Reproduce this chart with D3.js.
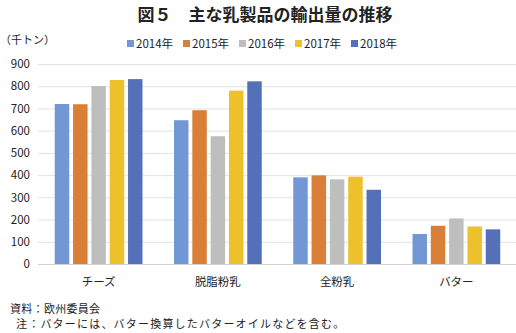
<!DOCTYPE html>
<html><head><meta charset="utf-8">
<script src="https://cdn.jsdelivr.net/npm/d3@7"></script>
<style>body{margin:0;background:#fff}svg{display:block}text{font-family:"Noto Sans CJK JP","Noto Sans",sans-serif}</style>
</head><body><svg id="c" width="516" height="333"></svg>
<script>
const categories = ["チーズ","脱脂粉乳","全粉乳","バター"];
const years = ["2014年","2015年","2016年","2017年","2018年"];
const v2014 = [720, 647, 390, 135];
const v2015 = [719, 692, 399, 172];
const v2016 = [801, 575, 381, 205];
const v2017 = [828, 780, 393, 169];
const v2018 = [832, 822, 334, 156];
const yTicks = [0,100,200,300,400,500,600,700,800,900];
const colors = ["#7198D4","#DA7F38","#BEBEBE","#ECC12B","#5470B8"];
const series = [v2014,v2015,v2016,v2017,v2018];

const svg = d3.select("#c");
const x = d3.scaleBand().domain(categories).range([39,516]).paddingInner(0).paddingOuter(0);
const x1 = d3.scaleBand().domain(years).range([0,x.bandwidth()]).paddingInner(0.21).paddingOuter(0.86);
const y = d3.scaleLinear().domain([0,900]).range([264,64]);

svg.append("text").attr("x",265).attr("y",21).attr("text-anchor","middle")
  .attr("font-size",17).attr("font-weight","bold").attr("fill","#222").text("図５　主な乳製品の輸出量の推移");
svg.append("text").attr("x",0).attr("y",44).attr("font-size",11).attr("fill","#222").text("（千トン）");

// grid
svg.append("g").selectAll("line").data(yTicks).join("line")
  .attr("x1",38).attr("x2",516).attr("y1",d=>y(d)+0.5).attr("y2",d=>y(d)+0.5)
  .attr("stroke",d=>d===0?"#d0d0d0":"#e2e2e2").attr("stroke-width",1);
const ax = svg.append("g").attr("transform","translate(30,0)").call(d3.axisLeft(y).tickValues(yTicks).tickSize(0).tickPadding(0));
ax.select(".domain").remove();
ax.selectAll("text").attr("font-size",11.5).attr("fill","#222").attr("font-family","Liberation Sans, Arial, sans-serif");

// bars
const g = svg.append("g").selectAll("g").data(categories).join("g").attr("transform",d=>`translate(${x(d)},0)`);
g.selectAll("rect").data((c,i)=>series.map((s,j)=>({yr:years[j],v:s[i],j}))).join("rect")
  .attr("x",d=>x1(d.yr)).attr("width",x1.bandwidth())
  .attr("y",d=>y(d.v)).attr("height",d=>y(0)-y(d.v)).attr("fill",d=>colors[d.j]);

// category labels
const xa = svg.append("g").attr("transform","translate(0,264)").call(d3.axisBottom(x).tickSize(0).tickPadding(14));
xa.select(".domain").remove();
xa.selectAll("text").attr("font-size",11.5).attr("fill","#222");

// legend
const lg = svg.append("g").selectAll("g").data(years).join("g").attr("transform",(d,i)=>`translate(${127+i*56},40)`);
lg.append("rect").attr("x",0).attr("y",0).attr("width",7).attr("height",7).attr("fill",(d,i)=>colors[i]);
lg.append("text").attr("x",9).attr("y",7.5).attr("font-size",11.5).attr("fill","#222").text(d=>d);

// footer
svg.append("text").attr("x",10).attr("y",313).attr("font-size",11).attr("letter-spacing",0.3).attr("fill","#222").text("資料：欧州委員会");
svg.append("text").attr("x",16).attr("y",328).attr("font-size",11).attr("letter-spacing",1.2).attr("fill","#222").text("注：バターには、バター換算したバターオイルなどを含む。");
</script></body></html>
